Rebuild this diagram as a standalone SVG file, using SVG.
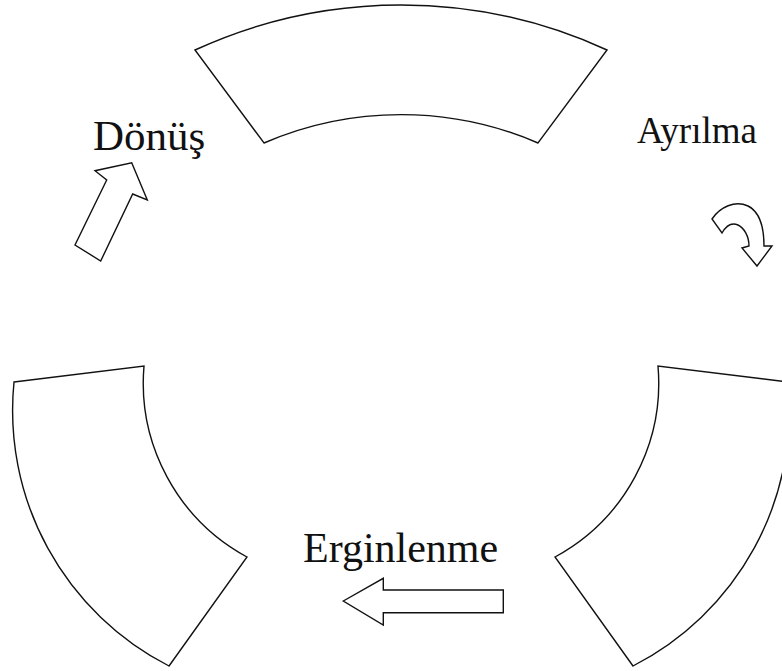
<svg xmlns="http://www.w3.org/2000/svg" width="782" height="671" viewBox="0 0 782 671">
<style>
.s{fill:#fff;stroke:#111;stroke-width:1.4;stroke-linejoin:miter}
.t{font-family:"Liberation Serif","Times New Roman",serif;fill:#111}
</style>
<rect width="782" height="671" fill="#fff"/>
<g id="seg-top"><path class="s" d="M195,50 A494,494 0 0 1 607,50 L538,143 A345,345 0 0 0 264,143 Z"/></g>
<g id="seg-left"><path class="s" d="M14,382 L144,366 A198,198 0 0 0 247,557 L169,666 A287,287 0 0 1 14,382 Z"/></g>
<g id="seg-right"><path class="s" d="M788,382 L658,366 A198,198 0 0 1 555,557 L633,666 A287,287 0 0 0 788,382 Z"/></g>
<g id="label-donus"><text class="t" x="93" y="150" font-size="43">Dönüş</text></g>
<g id="label-ayrilma"><text class="t" x="637" y="143" font-size="37">Ayrılma</text></g>
<g id="label-erginlenme"><text class="t" x="303" y="562" font-size="42">Erginlenme</text></g>
<g id="connectors">
<polygon class="s" points="131.7,162.7 147.3,200 132.7,194 100.7,261 75,245 106.7,180 95,170.7"/>
<path class="s" d="M712,219 C720,207 735,200 748,206 C758,211 764,225 764,246 L772,246 L757,266 L742,248 L749,246 C749,236 744,228 738,225 C731,222 726,226 722,233 Z"/>
<polygon class="s" points="343.3,601 383.3,578.3 383.3,590 503.3,590 503.3,612.7 383.3,612.7 383.3,625"/>
</g>
</svg>
